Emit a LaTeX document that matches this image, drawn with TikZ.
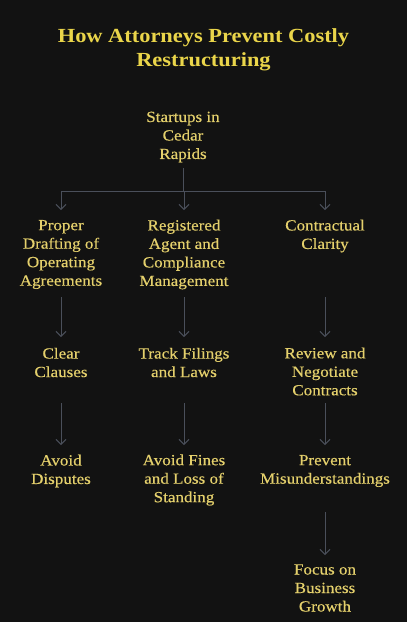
\documentclass[tikz,border=0pt]{standalone}
\usepackage{fontspec}
\setmainfont{Liberation Serif}[FakeStretch=1.1,FakeBold=0.4]
\newfontfamily\titlefont{Liberation Serif}[FakeStretch=1.12]
\usetikzlibrary{arrows.meta}
\definecolor{bg}{HTML}{121212}
\definecolor{titlecol}{HTML}{EAD54A}
\definecolor{txtcol}{HTML}{E4D06C}
\definecolor{linecol}{HTML}{4A4F5A}
\begin{document}
\begin{tikzpicture}[x=1pt,y=-1pt,
  lbl/.style={text=txtcol,align=center,inner sep=0pt,font=\fontsize{15.5}{18.5}\selectfont},
  conn/.style={draw=linecol,line width=1pt},
  arr/.style={conn,-{Straight Barb[length=5pt,width=10pt]}}]
\path[fill=bg] (0,0) rectangle (407,622);
\node[text=titlecol,align=center,inner sep=0pt,font=\titlefont\bfseries\fontsize{20}{24}\selectfont] (title) at (203.5,49.5) {How Attorneys Prevent Costly\\Restructuring};
\node[lbl] (start) at (183,137) {Startups in\\Cedar\\Rapids};
\node[lbl] (proper) at (61,254.5) {Proper\\Drafting of\\Operating\\Agreements};
\node[lbl] (agent) at (184,254.5) {Registered\\Agent and\\Compliance\\Management};
\node[lbl] (contract) at (325,236) {Contractual\\Clarity};
\node[lbl] (clear) at (61,362.5) {Clear\\Clauses};
\node[lbl] (track) at (184,362.5) {Track Filings\\and Laws};
\node[lbl] (review) at (325,371.5) {Review and\\Negotiate\\Contracts};
\node[lbl] (dispute) at (61,471) {Avoid\\Disputes};
\node[lbl] (fines) at (184,480) {Avoid Fines\\and Loss of\\Standing};
\node[lbl] (prevent) at (325,471) {Prevent\\Misunderstandings};
\node[lbl] (focus) at (325,588) {Focus on\\Business\\Growth};
% rank levels
\coordinate (stemtop) at (0,168);
\coordinate (bus) at (0,191);
\coordinate (r2top) at (0,210);
\coordinate (r2bot) at (0,297);
\coordinate (r3top) at (0,337);
\coordinate (r3bot) at (0,403);
\coordinate (r4top) at (0,445);
\coordinate (r4bot) at (0,512);
\coordinate (r5top) at (0,555);
\draw[conn] (start |- stemtop) -- (start |- bus);
\draw[conn] (proper |- bus) -- (contract |- bus);
\draw[arr] (proper |- bus) -- (proper |- r2top);
\draw[arr] (agent |- bus) -- (agent |- r2top);
\draw[arr] (contract |- bus) -- (contract |- r2top);
\draw[arr] (proper |- r2bot) -- (clear |- r3top);
\draw[arr] (agent |- r2bot) -- (track |- r3top);
\draw[arr] (contract |- r2bot) -- (review |- r3top);
\draw[arr] (clear |- r3bot) -- (dispute |- r4top);
\draw[arr] (track |- r3bot) -- (fines |- r4top);
\draw[arr] (review |- r3bot) -- (prevent |- r4top);
\draw[arr] (prevent |- r4bot) -- (focus |- r5top);
\end{tikzpicture}
\end{document}
